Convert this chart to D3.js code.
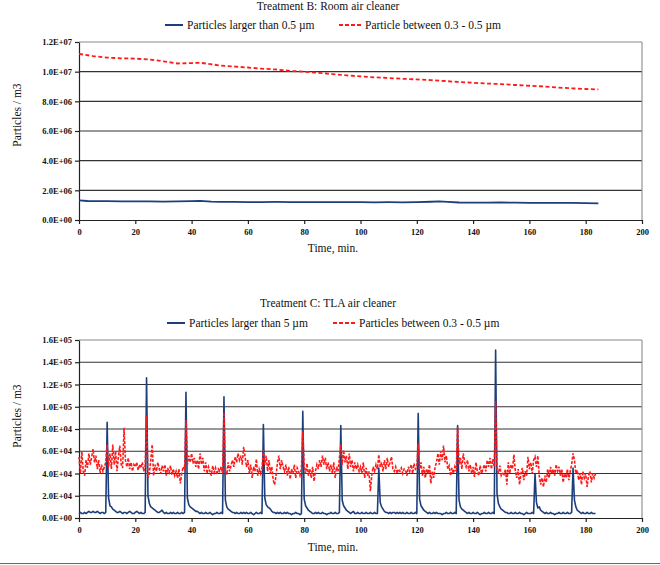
<!DOCTYPE html>
<html><head><meta charset="utf-8">
<script src="https://cdn.jsdelivr.net/npm/d3@7"></script>
<style>
body{margin:0;background:#fff;}
text{font-family:"Liberation Serif","Times New Roman",serif;fill:#111;}
</style></head>
<body><svg id="c" width="660" height="565"></svg>
<script>
// ---------- DATA ----------
// Chart B (top): Room air cleaner
const topTitle = "Treatment B: Room air cleaner";
const topLegend = ["Particles larger than 0.5 \u00b5m", "Particle between 0.3 - 0.5 \u00b5m"];
const topFineTime = [0,5,10,15,20,25,30,35,40,43,45,50,55,60,65,70,75,80,85,90,95,100,105,110,115,120,125,130,135,140,145,150,155,160,165,170,175,180,184.5];
const topFineVal  = [11.2,11.05,10.95,10.9,10.88,10.82,10.7,10.55,10.58,10.6,10.55,10.42,10.35,10.28,10.2,10.15,10.05,10.0,9.92,9.84,9.75,9.68,9.62,9.57,9.52,9.48,9.43,9.37,9.3,9.25,9.2,9.16,9.1,9.05,9.0,8.93,8.88,8.83,8.8]; // x1e6
const topLargeTime = [0,3,5,10,15,20,25,30,35,40,43,47,50,55,60,65,70,75,80,85,90,95,100,105,110,115,120,125,128,131,135,140,145,150,155,160,165,170,175,180,184.5];
const topLargeVal  = [1.32,1.28,1.27,1.27,1.26,1.26,1.25,1.24,1.25,1.27,1.29,1.24,1.22,1.22,1.21,1.21,1.22,1.21,1.21,1.2,1.2,1.2,1.2,1.19,1.2,1.19,1.2,1.23,1.26,1.22,1.18,1.17,1.17,1.18,1.17,1.16,1.15,1.16,1.15,1.14,1.12]; // x1e6
const topYTicks = [0,2e6,4e6,6e6,8e6,1e7,1.2e7];

// Chart C (bottom): TLA air cleaner, sampled every 0.5 min (values x1e3)
const botTitle = "Treatment C: TLA air cleaner";
const botLegend = ["Particles larger than 5 \u00b5m", "Particles between 0.3 - 0.5 \u00b5m"];
const botStep = 0.5;
const botFine = [
55,40,60,42,38,52,45,58,48,55, 62,50,56,44,52,40,48,42,46,50,
66,46,58,44,66,48,60,42,55,65, 48,45,81,52,46,54,44,50,42,48,
46,50,43,48,45,50,42,47,92,36, 40,52,66,38,48,42,50,44,40,47,
42,48,38,45,41,47,39,44,38,42, 36,44,31,40,46,44,88,48,56,50,
58,49,54,46,52,44,58,48,54,42, 50,40,46,42,38,47,41,45,39,44,
42,46,40,95,44,39,50,42,47,52, 46,55,50,58,52,56,48,64,55,46,
52,40,48,36,46,42,53,38,44,40, 45,61,48,56,42,52,40,46,34,30,
38,50,56,44,52,46,42,48,38,46, 35,44,40,48,36,45,42,38,44,78,
46,40,49,38,44,36,46,33,42,48, 44,52,46,56,48,54,44,50,42,48,
40,50,36,46,42,54,66,48,61,50, 56,44,58,46,52,42,50,44,48,42,
46,40,50,36,45,38,42,24,38,46, 42,48,44,57,46,50,42,52,44,54,
46,50,55,44,42,46,40,44,42,45, 40,44,43,38,46,42,48,40,49,44,
46,67,44,50,38,46,36,44,40,48, 31,42,36,46,50,58,48,60,52,65,
50,56,44,47,38,45,40,46,42,82, 48,54,44,58,50,46,52,42,48,40,
46,37,50,42,38,47,40,44,48,42, 52,46,54,44,53,46,105,44,40,47,
38,40,39,44,30,50,40,48,44,57, 42,36,44,30,40,45,34,42,38,55,
44,50,40,52,55,46,56,38,30,36, 28,38,32,44,36,46,40,44,38,48,
42,46,38,44,32,40,36,44,34,42, 48,58,52,40,43,34,40,30,42,36,
40,28,38,42,32,40,36,40];
const botLarge = [
4,5,4,4,5,4,5,6,5,5, 6,5,5,6,5,4,5,5,4,5,
86,18,11,10,8,7,6,5,5,6, 5,4,5,5,4,5,6,5,4,4,
5,6,5,4,5,4,4,5,126,20, 13,10,9,8,7,6,5,5,6,7,
5,4,5,4,4,5,4,5,4,4, 5,4,4,5,4,5,113,18,12,10,
9,8,7,6,6,5,4,5,4,4, 5,4,4,5,4,3,4,4,5,4,
4,5,4,109,16,10,8,7,6,5, 5,4,5,4,4,5,4,5,4,5,
4,4,5,4,3,4,5,4,4,5, 4,84,18,12,10,9,8,6,5,5,
4,5,4,5,4,4,5,4,5,4, 4,3,4,4,5,4,4,3,4,96,
17,11,9,7,6,5,4,4,5,4, 5,4,4,5,4,4,3,4,4,5,
4,4,5,4,4,5,83,16,11,9, 7,6,5,4,5,6,4,4,5,4,
4,5,4,4,5,4,4,5,4,4, 5,4,4,45,14,10,8,6,5,5,
4,5,4,5,5,4,5,4,5,4, 5,4,4,5,4,4,5,4,4,5,
4,94,17,11,9,7,6,5,4,5, 4,4,5,4,5,4,4,4,3,4,
4,5,4,4,5,4,4,5,4,83, 16,10,8,7,6,5,4,5,4,4,
5,4,4,5,4,3,4,4,5,4, 4,5,4,4,5,4,151,22,13,10,
8,7,6,5,5,4,4,5,4,4, 5,4,4,5,4,4,3,4,5,4,
4,4,5,4,40,14,9,10,7,6, 5,4,5,4,4,5,4,4,3,4,
4,5,4,4,5,4,4,5,4,4, 5,45,16,10,7,6,5,4,5,4,
4,5,4,4,5,4,4,4];
const botYTicks = [0,2e4,4e4,6e4,8e4,1e5,1.2e5,1.4e5,1.6e5];

const xTicks = [0,20,40,60,80,100,120,140,160,180,200];
const yAxisTitle = "Particles / m3";
const xAxisTitle = "Time, min.";

// ---------- DRAW ----------
const svg = d3.select("#c");
const BLUE = "#1c3f7c", RED = "#ff1a1a";
function sci(v){
  if (v === 0) return "0.0E+00";
  const e = Math.floor(Math.log10(v) + 1e-9);
  const m = v / Math.pow(10, e);
  return m.toFixed(1) + "E+" + String(e).padStart(2, "0");
}

function panel(o){
  const x = d3.scaleLinear().domain([0,200]).range([79,642]);
  const y = d3.scaleLinear().domain([0,o.yMax]).range([o.y0,o.y1]);
  const g = svg.append("g");
  // title & legend
  g.append("text").attr("x",328).attr("y",o.titleY).attr("text-anchor","middle")
    .style("font-size","11.5px").text(o.title);
  g.append("line").attr("x1",o.leg[0]).attr("x2",o.leg[0]+18).attr("y1",o.legY-4).attr("y2",o.legY-4)
    .attr("stroke",BLUE).attr("stroke-width",2);
  g.append("text").attr("x",o.leg[0]+22).attr("y",o.legY).style("font-size","11.5px").text(o.legend[0]);
  g.append("line").attr("x1",o.leg[1]).attr("x2",o.leg[1]+22).attr("y1",o.legY-4).attr("y2",o.legY-4)
    .attr("stroke",RED).attr("stroke-width",2).attr("stroke-dasharray","4,2");
  g.append("text").attr("x",o.leg[1]+26).attr("y",o.legY).style("font-size","11.5px").text(o.legend[1]);
  // grid
  g.selectAll(".grid").data(o.yTicks.filter(d=>d>0)).join("line")
    .attr("x1",79).attr("x2",642).attr("y1",d=>y(d)).attr("y2",d=>y(d))
    .attr("stroke",d=>d===o.yMax?"#8a8a8a":"#333").attr("stroke-width",1.1);
  g.append("line").attr("x1",642).attr("x2",642).attr("y1",y(o.yMax)).attr("y2",y(0))
    .attr("stroke","#8a8a8a").attr("stroke-width",1.1);
  // axes
  const ya = g.append("g").attr("transform","translate(79,0)")
    .call(d3.axisLeft(y).tickValues(o.yTicks).tickFormat(sci).tickSize(4).tickSizeOuter(0));
  ya.selectAll("text").style("font-size","8.5px").style("font-weight","bold").attr("x",-7);
  ya.selectAll("path,line").attr("stroke","#222").attr("stroke-width",1.2);
  const xa = g.append("g").attr("transform",`translate(0,${o.y0})`)
    .call(d3.axisBottom(x).tickValues(xTicks).tickFormat(d3.format("d")).tickSize(4).tickSizeOuter(0));
  xa.selectAll("text").style("font-size","8.5px").style("font-weight","bold").attr("y",9);
  xa.selectAll("path,line").attr("stroke","#222").attr("stroke-width",1.2);
  // axis titles
  g.append("text").attr("transform",`translate(21,${o.yTitleY}) rotate(-90)`).attr("text-anchor","middle")
    .style("font-size","11.5px").text(yAxisTitle);
  g.append("text").attr("x",333).attr("y",o.xTitleY).attr("text-anchor","middle")
    .style("font-size","11.5px").text(xAxisTitle);
  // series
  const line = d3.line().x(d=>x(d[0])).y(d=>y(d[1]));
  g.append("path").datum(o.large).attr("d",line).attr("fill","none")
    .attr("stroke",BLUE).attr("stroke-width",o.blueW).attr("stroke-linejoin","round");
  g.append("path").datum(o.fine).attr("d",line).attr("fill","none")
    .attr("stroke",RED).attr("stroke-width",o.redW).attr("stroke-dasharray",o.dash);
}

panel({
  title: topTitle, legend: topLegend, titleY: 10, legY: 29, leg:[165,339],
  yMax: 1.2e7, y0: 220, y1: 42, yTicks: topYTicks, yTitleY: 115, xTitleY: 252,
  large: topLargeTime.map((t,i)=>[t, topLargeVal[i]*1e6]),
  fine: topFineTime.map((t,i)=>[t, topFineVal[i]*1e6]),
  blueW: 1.8, redW: 1.8, dash: "4,2.5"
});
panel({
  title: botTitle, legend: botLegend, titleY: 307, legY: 327, leg:[167,333],
  yMax: 1.6e5, y0: 518, y1: 340, yTicks: botYTicks, yTitleY: 416, xTitleY: 551,
  large: botLarge.map((v,i)=>[i*botStep, v*1e3]),
  fine: botFine.map((v,i)=>[i*botStep, v*1e3]),
  blueW: 1.6, redW: 1.6, dash: "3,1.5"
});
// bottom separator rule
svg.append("line").attr("x1",0).attr("x2",660).attr("y1",563.5).attr("y2",563.5)
  .attr("stroke","#b04a44").attr("stroke-width",1.2);
</script></body></html>
